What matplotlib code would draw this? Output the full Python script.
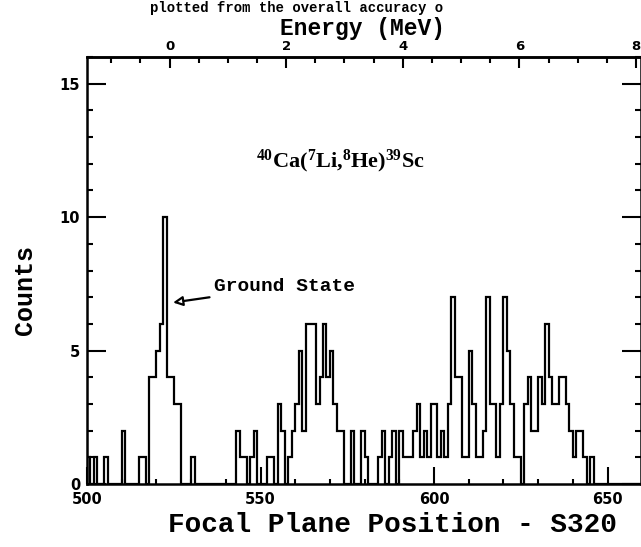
import matplotlib
matplotlib.use("Agg")
import matplotlib.pyplot as plt
from matplotlib.ticker import MultipleLocator, FixedLocator

# focal plane histogram, one channel per bin, first bin starts at 500
first_channel = 500
counts = [
    1, 0, 1, 0, 0, 1, 0, 0, 0, 0,   # 500
    2, 0, 0, 0, 0, 1, 1, 0, 4, 4,   # 510
    5, 6, 10, 4, 4, 3, 3, 0, 0, 0,  # 520
    1, 0, 0, 0, 0, 0, 0, 0, 0, 0,   # 530
    0, 0, 0, 2, 1, 1, 0, 1, 2, 0,   # 540
    0, 0, 1, 1, 0, 3, 2, 0, 1, 2,   # 550
    3, 5, 2, 6, 6, 6, 3, 4, 6, 4,   # 560
    5, 3, 2, 2, 0, 0, 2, 0, 0, 2,   # 570
    1, 0, 0, 0, 1, 2, 0, 1, 2, 0,   # 580
    2, 1, 1, 1, 2, 3, 1, 2, 1, 3,   # 590
    3, 1, 2, 1, 3, 7, 4, 4, 1, 1,   # 600
    5, 3, 1, 1, 2, 7, 3, 3, 1, 3,   # 610
    7, 5, 3, 1, 1, 0, 3, 4, 2, 2,   # 620
    4, 3, 6, 4, 3, 3, 4, 4, 3, 2,   # 630
    1, 2, 2, 1, 0, 1, 0, 0, 0, 0,   # 640
    0, 0, 0, 0, 0, 0, 0, 0, 0, 0,   # 650
]
edges = [first_channel + i for i in range(len(counts) + 1)]

# energy scale on top: channel of 0 MeV and channels per MeV
e0_channel = 523.8
ch_per_mev = 16.8
energy_ticks = [0, 2, 4, 6, 8]

x_ticks = [500, 550, 600, 650]
y_ticks = [0, 5, 10, 15]

MONO = "Liberation Mono"

plt.rcParams["mathtext.fontset"] = "custom"
plt.rcParams["mathtext.rm"] = "Liberation Serif:bold"
plt.rcParams["mathtext.default"] = "rm"

fig = plt.figure(figsize=(6.41, 5.47), dpi=100)
ax = fig.add_axes([87 / 641, 63 / 547, (640.5 - 87) / 641, (484 - 57) / 547])

ax.stairs(counts, edges, color="black", lw=1.6, baseline=0)

ax.set_xlim(500, 659.5)
ax.set_ylim(0, 16)

for sp in ax.spines.values():
    sp.set_linewidth(1.8)

ax.xaxis.set_major_locator(FixedLocator(x_ticks))
ax.xaxis.set_minor_locator(MultipleLocator(10))
ax.yaxis.set_major_locator(FixedLocator(y_ticks))
ax.yaxis.set_minor_locator(MultipleLocator(1))
ax.tick_params(axis="both", which="both", direction="in", width=1.5,
               top=False, right=True)
ax.tick_params(axis="x", which="major", length=12, pad=6)
ax.tick_params(axis="x", which="minor", length=3.5)
ax.tick_params(axis="y", which="major", length=14, pad=5)
ax.tick_params(axis="y", which="minor", length=4)
for lab in ax.get_xticklabels() + ax.get_yticklabels():
    lab.set_fontweight("bold")
    lab.set_fontsize(10.5)
    lab.set_family("DejaVu Sans")

# energy axis on top
def ch2e(x):
    return (x - e0_channel) / ch_per_mev

def e2ch(e):
    return e * ch_per_mev + e0_channel

top = ax.secondary_xaxis("top", functions=(ch2e, e2ch))
top.xaxis.set_major_locator(FixedLocator(energy_ticks))
top.xaxis.set_minor_locator(MultipleLocator(0.5))
top.tick_params(which="both", direction="in", width=1.5)
top.tick_params(which="major", length=8, pad=3, labelsize=9.5)
top.tick_params(which="minor", length=4)
top.spines["top"].set_linewidth(1.8)
for lab in top.get_xticklabels():
    lab.set_fontweight("bold")

# caption line of the page above the figure (cut by the scan in the original)
fig.text(150 / 641, 1 - 1 / 547, "plotted from the overall accuracy o", family=MONO,
         fontweight="bold", fontsize=10, ha="left", va="top")

# labels
fig.text(392 / 641, 1 - 525 / 547, "Focal Plane Position - S320", family=MONO,
         fontweight="bold", fontsize=20, ha="center", va="center")
fig.text(362 / 641, 1 - 28 / 547, "Energy (MeV)", family=MONO,
         fontweight="bold", fontsize=16.5, ha="center", va="center")
fig.text(25 / 641, 1 - 290 / 547, "Counts", family=MONO, fontweight="bold",
         fontsize=18, ha="center", va="center", rotation=90)

ax.text(573, 12.1, r"$^{40}$Ca($^{7}$Li,$^{8}$He)$^{39}$Sc", family="Liberation Serif",
        fontweight="bold", fontsize=16, ha="center", va="center")

ax.annotate("Ground State", xy=(524.8, 6.8), xytext=(536.5, 7.4),
            family=MONO, fontweight="bold", fontsize=14, va="center", ha="left",
            arrowprops=dict(arrowstyle="-|>", fc="white", ec="black", lw=1.6,
                            mutation_scale=14, shrinkA=1, shrinkB=0))

fig.savefig("out.png", dpi=100, facecolor="white")
